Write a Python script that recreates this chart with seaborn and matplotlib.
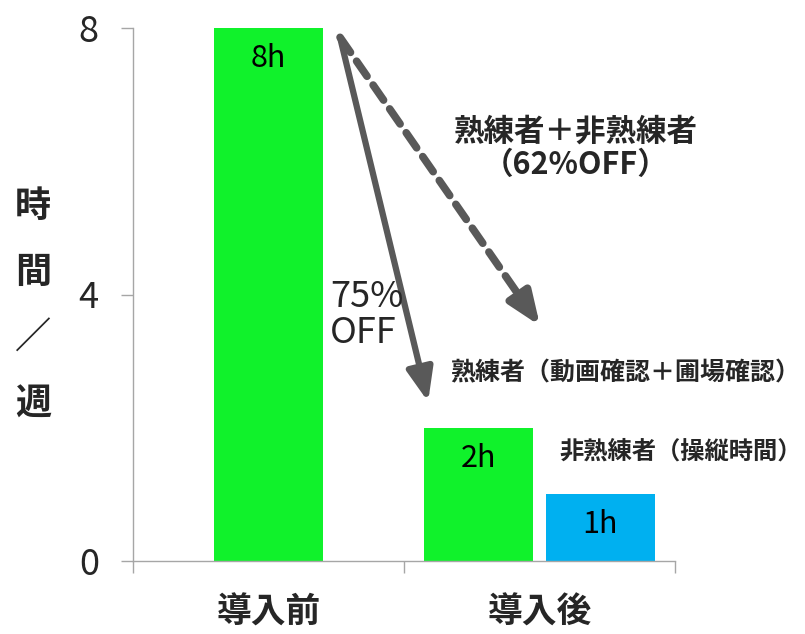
import matplotlib
matplotlib.use("Agg")
import matplotlib.pyplot as plt
import seaborn as sns
import pandas as pd

# --- data -------------------------------------------------------------
phases = ["導入前", "導入後"]
groups = ["熟練者", "非熟練者"]
before_hours = [8]
after_hours = [2, 1]
before_labels = ["8h"]
after_labels = ["2h", "1h"]
y_ticks = [0, 4, 8]
y_label_chars = ["時", "間", "／", "週"]

# --- style ------------------------------------------------------------
sns.set_theme(style="white")
plt.rcParams["font.family"] = ["Noto Sans CJK JP", "DejaVu Sans"]

GREEN = "#10F22B"
BLUE = "#00B0F0"
ARROW = "#595959"
AXIS_GRAY = "#A6A6A6"
CJK_WEIGHT = "bold"

before_df = pd.DataFrame({"phase": [phases[0]] * len(before_hours), "hours": before_hours})
after_df = pd.DataFrame({"phase": [phases[1]] * len(after_hours), "group": groups, "hours": after_hours})

fig = plt.figure(figsize=(8.05, 6.34), dpi=100)
ax = fig.add_axes([133 / 805, 73 / 634, 542 / 805, 533 / 634])

sns.barplot(data=before_df, x="phase", y="hours", order=phases, color=GREEN,
            width=0.4, saturation=1, edgecolor="none", linewidth=0, ax=ax)
sns.barplot(data=after_df, x="phase", y="hours", hue="group", order=phases,
            hue_order=groups, palette={groups[0]: GREEN, groups[1]: BLUE},
            width=0.9, gap=0.11, dodge=True, saturation=1, edgecolor="none",
            linewidth=0, legend=False, ax=ax)

# value labels inside the bar tops
all_labels = [before_labels] + [[lbl] for lbl in after_labels]
for container, labels in zip(ax.containers, all_labels):
    ax.bar_label(container, labels=labels, padding=-33, fontsize=22, color="black")

# --- axes -------------------------------------------------------------
ax.set_ylim(0, 8)
ax.set_xlim(-0.5, 1.5)
ax.set_yticks(y_ticks)
ax.set_yticklabels([str(t) for t in y_ticks], fontsize=26)
ax.set_xticks([-0.5, 0.5, 1.5])
ax.set_xticklabels(["", "", ""])
ax.set_xticks([0, 1], minor=True)
ax.set_xticklabels(phases, minor=True, fontsize=25, fontweight=CJK_WEIGHT)
ax.tick_params(axis="x", which="major", length=8.6, width=1, color=AXIS_GRAY, direction="out", bottom=True)
ax.tick_params(axis="x", which="minor", length=0, pad=24)
ax.tick_params(axis="y", which="major", length=8.6, width=1, color=AXIS_GRAY, direction="out", left=True, pad=16)
ax.set_xlabel("")
ax.set_ylabel("")
for side in ["top", "right"]:
    ax.spines[side].set_visible(False)
for side in ["left", "bottom"]:
    ax.spines[side].set_color(AXIS_GRAY)
    ax.spines[side].set_linewidth(1)

# vertical y-axis title, one character per line
for i, ch in enumerate(y_label_chars):
    fig.text(33 / 805, 1 - (206 + 66 * i) / 634, ch, fontsize=26,
             fontweight=CJK_WEIGHT, ha="center", va="center")

# --- reduction arrows -------------------------------------------------
start = (0.264, 7.86)
solid_tip = (0.589, 2.39)
dashed_tip = (1.002, 3.53)

ax.annotate("", xy=solid_tip, xytext=start,
            arrowprops=dict(arrowstyle="-|>,head_length=0.5,head_width=0.2",
                            mutation_scale=40, color=ARROW, lw=4.5,
                            shrinkA=0, shrinkB=0))

# dashed shaft, then a solid head at its end
head_base = (start[0] + (dashed_tip[0] - start[0]) * 0.9,
             start[1] + (dashed_tip[1] - start[1]) * 0.9)
ax.annotate("", xy=head_base, xytext=start,
            arrowprops=dict(arrowstyle="-", color=ARROW, lw=5.5,
                            linestyle=(0, (2.4, 1.4)), shrinkA=0, shrinkB=0))
ax.annotate("", xy=dashed_tip, xytext=head_base,
            arrowprops=dict(arrowstyle="-|>,head_length=0.5,head_width=0.2",
                            mutation_scale=40, color=ARROW, lw=5.5,
                            shrinkA=0, shrinkB=0))

# --- annotations ------------------------------------------------------
ax.text(0.227, 3.69, "75%\nOFF", fontsize=26, ha="left", va="center",
        linespacing=1.0)
ax.text(1.135, 6.2, "熟練者＋非熟練者\n（62%OFF）", fontsize=22, ha="center",
        va="center", linespacing=1.05, fontweight=CJK_WEIGHT)
ax.text(0.67, 2.82, "熟練者（動画確認＋圃場確認）", fontsize=18, ha="left",
        va="center", fontweight=CJK_WEIGHT)
ax.text(1.072, 1.64, "非熟練者（操縦時間）", fontsize=17.5, ha="left",
        va="center", fontweight=CJK_WEIGHT)

fig.savefig("out.png", dpi=100)
